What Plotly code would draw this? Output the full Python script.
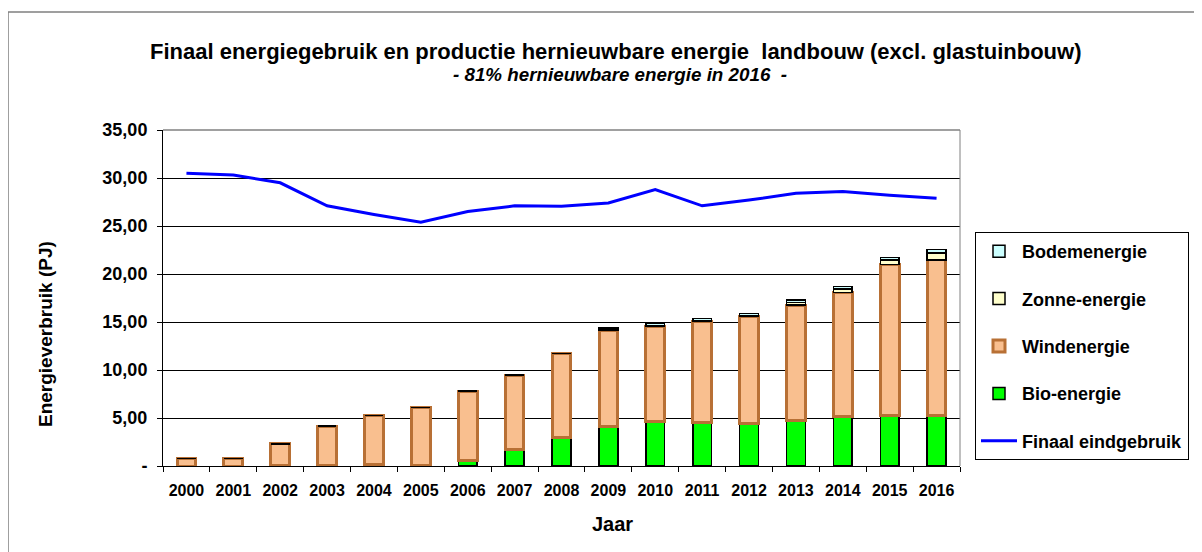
import plotly.graph_objects as go

years = [str(y) for y in range(2000, 2017)]
bio = [0, 0, 0.02, 0.05, 0.15, 0.1, 0.6, 1.67, 2.98, 4.1, 4.62, 4.51, 4.44, 4.79, 5.14, 5.24, 5.3]
wind = [0.8, 0.8, 2.28, 4.1, 5.1, 5.98, 7.2, 7.8, 8.76, 10.0, 9.96, 10.52, 11.12, 11.98, 12.91, 15.76, 16.16]
zonne = [0, 0, 0, 0, 0, 0, 0, 0, 0, 0.05, 0.05, 0.08, 0.1, 0.25, 0.4, 0.45, 0.75]
bodem = [0, 0, 0, 0, 0, 0, 0, 0, 0, 0.2, 0.23, 0.27, 0.25, 0.27, 0.23, 0.25, 0.36]
finaal = [30.5, 30.3, 29.5, 27.1, 26.2, 25.4, 26.5, 27.1, 27.05, 27.4, 28.8, 27.1, 27.7, 28.4, 28.6, 28.2, 27.9]

ytick_vals = [0, 5, 10, 15, 20, 25, 30, 35]
ytick_text = ["-", "5,00", "10,00", "15,00", "20,00", "25,00", "30,00", "35,00"]

FONT = "Liberation Sans, Arial, sans-serif"
W, H = 1202, 552
OFF = 8  # page body margin
L, R, T, B = 163 - OFF, 960 - OFF, 130 - OFF, 466 - OFF

def px(x):
    return (x - OFF - L) / (R - L)

def py(y):
    return (B - (y - OFF)) / (B - T)

fig = go.Figure()
bw = 0.4
fig.add_trace(go.Bar(x=years, y=bio, name="Bio-energie", width=bw, legendgroup="bio",
                     marker=dict(color="#00FF00", line=dict(color="#000000", width=1.5)),
                     legendrank=4))
fig.add_trace(go.Bar(x=years, y=wind, name="Windenergie", width=bw, legendgroup="wind",
                     marker=dict(color="#F9BF8F", line=dict(color="#B87035", width=3)),
                     legendrank=3))
fig.add_trace(go.Bar(x=years, y=zonne, name="Zonne-energie", width=bw, legendgroup="zon",
                     marker=dict(color="#FFFFCC", line=dict(color="#000000", width=1.5)),
                     legendrank=2))
fig.add_trace(go.Bar(x=years, y=bodem, name="Bodemenergie", width=bw, legendgroup="bodem",
                     marker=dict(color="#CCFFFF", line=dict(color="#000000", width=1.5)),
                     legendrank=1))
fig.add_trace(go.Scatter(x=years, y=finaal, name="Finaal eindgebruik", mode="lines",
                         legendgroup="fin",
                         line=dict(color="#0000FF", width=3), legendrank=5))

fig.update_layout(
    width=W, height=H,
    margin=dict(l=L, r=W - R, t=T, b=H - B),
    barmode="stack",
    plot_bgcolor="white", paper_bgcolor="white",
    font=dict(family=FONT, color="black"),
    showlegend=True,
    legend=dict(x=px(975), y=py(232), xanchor="left", yanchor="top",
                traceorder="grouped", bgcolor="white", bordercolor="black", borderwidth=1,
                font=dict(family=FONT, size=18, color="black", weight="bold"),
                tracegroupgap=21, itemwidth=36),
    xaxis=dict(type="category", showgrid=False, showline=True, linecolor="black", linewidth=1,
               ticks="outside", ticklen=5, tickcolor="black", tickson="boundaries",
               ticklabelstandoff=10,
               tickfont=dict(family=FONT, size=16, color="black", weight="bold")),
    yaxis=dict(range=[0, 35], tickvals=ytick_vals, ticktext=ytick_text,
               showgrid=True, gridcolor="black", gridwidth=1,
               showline=True, linecolor="black", linewidth=1,
               ticks="outside", ticklen=5, tickcolor="black", zeroline=False,
               ticklabelstandoff=6,
               tickfont=dict(family=FONT, size=18, color="black", weight="bold")),
)

annotations = [
    dict(text="<b>Finaal energiegebruik en productie hernieuwbare energie  landbouw (excl. glastuinbouw)</b>",
         x=px(616), y=py(52), font=dict(size=22)),
    dict(text="<b><i>- 81% hernieuwbare energie in 2016  -</i></b>",
         x=px(620), y=py(75), font=dict(size=18.8)),
    dict(text="<b>Energieverbruik (PJ)</b>", x=px(45), y=py(334), textangle=-90, font=dict(size=19)),
    dict(text="<b>Jaar</b>", x=px(612), y=py(524), font=dict(size=20)),
]
for a in annotations:
    a.update(xref="paper", yref="paper", showarrow=False, xanchor="center", yanchor="middle")
    a["font"].update(family=FONT, color="black")
fig.update_layout(annotations=annotations)

fig.add_shape(type="rect", xref="paper", yref="paper", x0=px(8), x1=px(1199), y0=py(575), y1=py(12),
              line=dict(color="#808080", width=1.5), layer="below")
fig.add_shape(type="line", xref="paper", yref="paper", x0=1, x1=1, y0=0, y1=1,
              line=dict(color="#808080", width=1))
fig.add_shape(type="line", xref="paper", yref="paper", x0=0, x1=1, y0=1, y1=1,
              line=dict(color="#808080", width=1.5))

fig.write_html("out.html")
